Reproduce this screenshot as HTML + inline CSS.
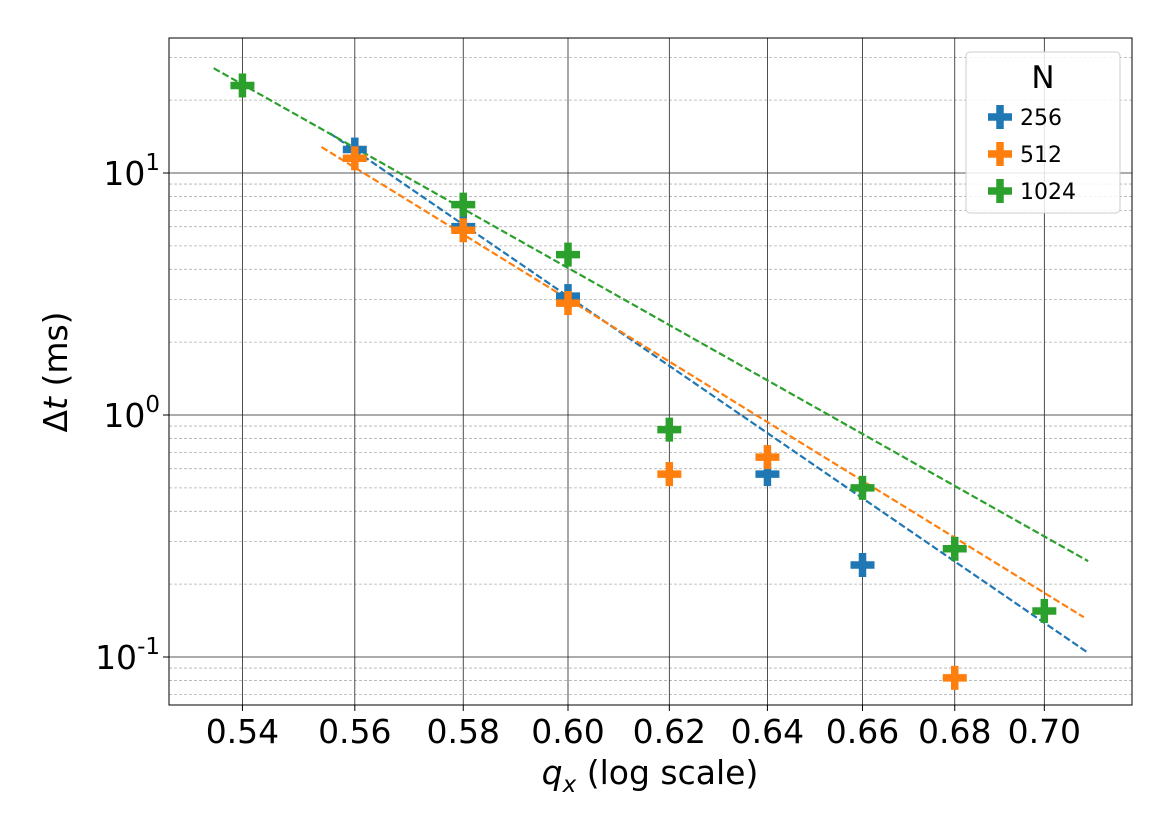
<!DOCTYPE html>
<html><head><meta charset="utf-8">
<style>
body{margin:0;background:#fff;}
svg{display:block;font-family:"DejaVu Sans","Liberation Sans",sans-serif;}
</style></head>
<body>
<svg id="chart" width="1170" height="830" xmlns="http://www.w3.org/2000/svg">
<g id="grid"></g>
<g id="fits"></g>
<g id="marks"></g>
<rect x="169" y="38" width="963" height="667" fill="none" stroke="#000" stroke-width="1"/>
<g id="ticks"></g>
<text x="650" y="784" font-size="33" text-anchor="middle"><tspan font-style="italic">q</tspan><tspan font-style="italic" font-size="23" dy="8">x</tspan><tspan dy="-8"> (log scale)</tspan></text>
<text transform="translate(67,372) rotate(-90)" font-size="33" text-anchor="middle">Δ<tspan font-style="italic">t</tspan> (ms)</text>
<g>
<rect x="966" y="52" width="154" height="161" rx="4" fill="#fff" fill-opacity="0.85" stroke="#ccc"/>
<text x="1043" y="88" font-size="31" text-anchor="middle">N</text>
<g id="legend-items"></g>
</g>
</svg>
<script>
const xTicks=[0.54,0.56,0.58,0.60,0.62,0.64,0.66,0.68,0.70];
const xTickLabels=["0.54","0.56","0.58","0.60","0.62","0.64","0.66","0.68","0.70"];
const seriesNames=["256","512","1024"];
const seriesColors=["#1f77b4","#ff7f0e","#2ca02c"];
const q256=[0.56,0.58,0.60,0.64,0.66];
const t256=[12.5,6.0,3.1,0.57,0.24];
const q512=[0.56,0.58,0.60,0.62,0.64,0.68];
const t512=[11.5,5.8,2.9,0.57,0.67,0.082];
const q1024=[0.54,0.58,0.60,0.62,0.66,0.68,0.70];
const t1024=[23,7.4,4.6,0.87,0.5,0.28,0.155];
const fitQ=[[0.5555,0.710],[0.554,0.709],[0.535,0.710]];
const fitT=[[14.6,0.104],[12.8,0.146],[27.1,0.249]];

const NS="http://www.w3.org/2000/svg";
function X(q){return 568+3090*Math.log(q/0.6);}
function Y(v){return 415-242*Math.log10(v);}
function mk(tag,attrs,parent){const e=document.createElementNS(NS,tag);for(const k in attrs)e.setAttribute(k,attrs[k]);parent.appendChild(e);return e;}
const grid=document.getElementById('grid'),ticks=document.getElementById('ticks');
for(let d=-2;d<=1;d++)for(let m=2;m<=9;m++){const y=Y(m*Math.pow(10,d));if(y<38||y>705)continue;
const l=mk('line',{x1:169,x2:1132,y1:y,y2:y,stroke:'#b0b0b0','stroke-width':0.8,'stroke-dasharray':'3,2'},grid);

}
[1,0,-1].forEach(p=>{const y=Y(Math.pow(10,p));
const l=mk('line',{x1:169,x2:1132,y1:y,y2:y,stroke:'#222','stroke-width':0.8},grid);


mk('line',{x1:163,x2:169,y1:y,y2:y,stroke:'#000'},ticks);
const t=mk('text',{x:160,y:y+12,'font-size':33,'text-anchor':'end'},ticks);


t.textContent='10';const s=mk('tspan',{dy:-15,'font-size':23},t);s.textContent=String(p);});
xTicks.forEach((q,i)=>{const x=X(q);
const l=mk('line',{x1:x,x2:x,y1:38,y2:705,stroke:'#222','stroke-width':0.8},grid);


mk('line',{x1:x,x2:x,y1:705,y2:711,stroke:'#000'},ticks);
const t=mk('text',{x:x,y:743,'font-size':33,'text-anchor':'middle'},ticks);


t.textContent=xTickLabels[i];});
const fits=document.getElementById('fits');
fitQ.forEach((qq,i)=>{const l=mk('line',{x1:X(qq[0]),y1:Y(fitT[i][0]),x2:X(qq[1]),y2:Y(fitT[i][1]),stroke:seriesColors[i],'stroke-width':2.2,'stroke-dasharray':'7,3'},fits);

});
function plus(x,y,c,parent){const g=mk('g',{},parent);
mk('line',{x1:x-12,x2:x+12,y1:y,y2:y,stroke:c,'stroke-width':7.5},g);
mk('line',{x1:x,x2:x,y1:y-12,y2:y+12,stroke:c,'stroke-width':7.5},g);return g;}
const marks=document.getElementById('marks');
[[q256,t256],[q512,t512],[q1024,t1024]].forEach((s,i)=>{s[0].forEach((q,j)=>{
const g=plus(X(q),Y(s[1][j]),seriesColors[i],marks);

});});
const li=document.getElementById('legend-items');
seriesNames.forEach((n,i)=>{const y=117+37*i;
const g=plus(1000,y,seriesColors[i],li);


const t=mk('text',{x:1020,y:y+8,'font-size':22},li);


t.textContent=n;});
</script>
</body></html>
